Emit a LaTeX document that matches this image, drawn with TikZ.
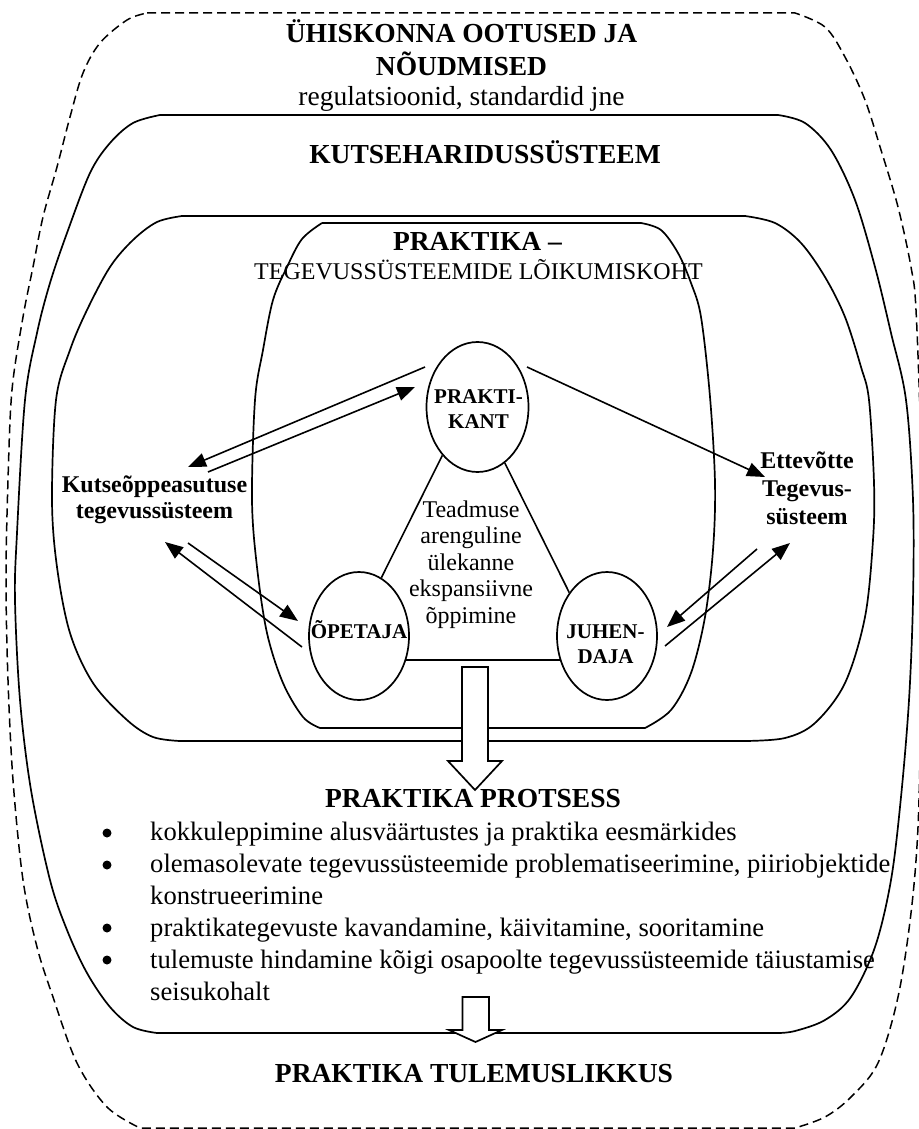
\documentclass[tikz,border=0pt]{standalone}
\usepackage{fontspec}
\setmainfont{Liberation Serif}
\usetikzlibrary{arrows.meta,shapes.geometric}
\newcommand\fBig{\fontsize{27.5}{33}\selectfont}
\newcommand\fMid{\fontsize{24}{27}\selectfont}
\newcommand\fSmall{\fontsize{21}{25}\selectfont}
\newcommand\fList{\fontsize{26.6}{32}\selectfont}
\begin{document}
\begin{tikzpicture}[x=1pt,y=-1pt,
  outline/.style={line width=1.7pt, line join=round},
  dashout/.style={line width=1.5pt, dash pattern=on 9pt off 5pt},
  elli/.style={ellipse, draw, line width=1.7pt, minimum width=100pt, minimum height=128pt, inner sep=0pt},
  lbl/.style={inner sep=0pt, anchor=base},
  tbig/.style={lbl, font=\fBig\bfseries},
  rbig/.style={lbl, font=\fBig},
  bmid/.style={lbl, font=\fMid\bfseries},
  rmid/.style={lbl, font=\fMid},
  bsm/.style={lbl, font=\fSmall\bfseries},
  rlist/.style={inner sep=0pt, anchor=base west, font=\fList},
  bul/.style={circle, fill=black, inner sep=0pt, minimum size=9pt},
  conn/.style={line width=1.6pt, -{Triangle[length=18pt,width=14pt]}},
  plainline/.style={line width=1.6pt},
  blockarrow/.style={line width=1.7pt, fill=white, line join=miter}
]
\useasboundingbox (0,0) rectangle (918,1129);

% outer dashed boundary: society
\draw[dashout] (147,13) -- (795,13)
  -- plot[smooth, tension=0.55] coordinates {(795,13) (825,27) (845,57) (865,100) (881,150) (898,207) (911,267) (916,310) (921,450) (922,580) (921,700) (918,827) (911,913) (898,997) (878,1063) (851,1097) (825,1117) (795,1128)}
  -- (140,1128)
  -- plot[smooth, tension=0.55] coordinates {(140,1128) (107,1107) (77,1063) (53,997) (37,947) (23,880) (13,780) (8,680) (6,580) (8,480) (12,390) (23,317) (33,267) (43,217) (57,167) (70,117) (83,73) (100,43) (127,20) (147,13)};

% vocational education system
\draw[outline] (160,115) -- (778,115)
  -- plot[smooth, tension=0.55] coordinates {(778,115) (805,123) (831,150) (855,200) (875,267) (891,333) (906,400) (913,500) (913,600) (909,700) (901,797) (891,880) (875,947) (851,997) (825,1020) (795,1031) (778,1033)}
  -- (157,1033)
  -- plot[smooth, tension=0.55] coordinates {(157,1033) (133,1027) (110,1007) (87,973) (67,930) (50,880) (31,790) (20,700) (15,600) (17,533) (25,400) (37,333) (50,283) (67,233) (90,173) (110,143) (133,123) (160,115)};

% activity systems
\draw[outline] (182,216) -- (745,216)
  -- plot[smooth, tension=0.55] coordinates {(745,216) (775,223) (801,243) (825,277) (845,317) (861,367) (869,400) (874,483) (873,540) (865,617) (845,683) (815,723) (785,738) (745,741)}
  -- (180,741)
  -- plot[smooth, tension=0.55] coordinates {(180,741) (153,737) (127,720) (93,683) (70,633) (57,567) (52,500) (56,400) (70,350) (87,310) (110,267) (133,240) (157,222) (182,216)};

% practice: intersection
\draw[outline] (322,223) -- (641,223)
  -- plot[smooth, tension=0.55] coordinates {(641,223) (661,230) (678,253) (691,283) (701,317) (710,397) (715,483) (713,550) (705,617) (691,673) (671,710) (645,728)}
  -- (320,728)
  -- plot[smooth, tension=0.55] coordinates {(320,728) (303,717) (283,683) (267,633) (257,567) (252,500) (255,400) (263,350) (273,300) (287,267) (302,239) (322,223)};

% ellipses
\node[elli, minimum width=102pt, minimum height=130pt] (pk) at (477.5,407) {};
\node[elli] (op) at (359,636) {};
\node[elli] (jh) at (607,636) {};

% triangle
\draw[plainline] (pk.234) -- (op.69);
\draw[plainline] (pk.296) -- (jh.131);
\draw[plainline] (op.333) -- (jh.207);

% arrow end points
\coordinate (pkL1) at (425,367);
\coordinate (kuU1) at (188,467);
\coordinate (kuU2) at (208,472);
\coordinate (pkL2) at (415,387);
\coordinate (pkR) at (527,367);
\coordinate (etU) at (765,477);
\coordinate (opL1) at (302,647);
\coordinate (kuD1) at (165,542);
\coordinate (kuD2) at (188,543);
\coordinate (opL2) at (298,621);
\coordinate (etD1) at (757,549);
\coordinate (jhR1) at (667,627);
\coordinate (jhR2) at (665,646);
\coordinate (etD2) at (790,543);

\draw[conn] (pkL1) -- (kuU1);
\draw[conn] (kuU2) -- (pkL2);
\draw[conn] (pkR) -- (etU);
\draw[conn] (opL1) -- (kuD1);
\draw[conn] (kuD2) -- (opL2);
\draw[conn] (etD1) -- (jhR1);
\draw[conn] (jhR2) -- (etD2);

% block arrows
\draw[blockarrow] (462,667) -- (488,667) -- (488,761) -- (502,761) -- (475,790) -- (448,761) -- (462,761) -- cycle;
\draw[blockarrow] (462.5,997) -- (489,997) -- (489,1030) -- (502,1030) -- (475.5,1042) -- (449,1030) -- (462.5,1030) -- cycle;

% texts
\node[tbig] (t1) at (461.5,43) {ÜHISKONNA OOTUSED JA};
\node[tbig] (t2) at (461.5,76) {NÕUDMISED};
\node[rbig] (t3) at (461.5,106) {regulatsioonid, standardid jne};
\node[tbig] (t4) at (485,163) {KUTSEHARIDUSSÜSTEEM};
\node[tbig] (t5) at (477.5,250) {PRAKTIKA –};
\node[rmid] (t6) at (478.5,279) {TEGEVUSSÜSTEEMIDE LÕIKUMISKOHT};

\node[bmid] (k1) at (154.5,492) {Kutseõppeasutuse};
\node[bmid] (k2) at (154.5,518) {tegevussüsteem};
\node[bmid] (e1) at (807,468) {Ettevõtte};
\node[bmid] (e2) at (807,496) {Tegevus-};
\node[bmid] (e3) at (807,524) {süsteem};

\node[bsm] (p1) at (478.5,403) {PRAKTI-};
\node[bsm] (p2) at (478.5,428) {KANT};
\node[bsm] (o1) at (359,638) {ÕPETAJA};
\node[bsm] (j1) at (605.5,638) {JUHEN-};
\node[bsm] (j2) at (605.5,663) {DAJA};

\node[rmid] (m1) at (471,517) {Teadmuse};
\node[rmid] (m2) at (471,543.5) {arenguline};
\node[rmid] (m3) at (471,570) {ülekanne};
\node[rmid] (m4) at (471,596.5) {ekspansiivne};
\node[rmid] (m5) at (471,623) {õppimine};

\node[tbig] (pp) at (473,807) {PRAKTIKA PROTSESS};
\node[bul] (b1) at (107,833) {};
\node[rlist] (l1) at (150,840) {kokkuleppimine alusväärtustes ja praktika eesmärkides};
\node[bul] (b2) at (107,865) {};
\node[rlist] (l2) at (150,872) {olemasolevate tegevussüsteemide problematiseerimine, piiriobjektide};
\node[rlist] (l3) at (150,904) {konstrueerimine};
\node[bul] (b3) at (107,928) {};
\node[rlist] (l4) at (150,936) {praktikategevuste kavandamine, käivitamine, sooritamine};
\node[bul] (b4) at (107,960) {};
\node[rlist] (l5) at (150,968) {tulemuste hindamine kõigi osapoolte tegevussüsteemide täiustamise};
\node[rlist] (l6) at (150,1000) {seisukohalt};

\node[tbig] (pt) at (474,1082) {PRAKTIKA TULEMUSLIKKUS};
\end{tikzpicture}
\end{document}
